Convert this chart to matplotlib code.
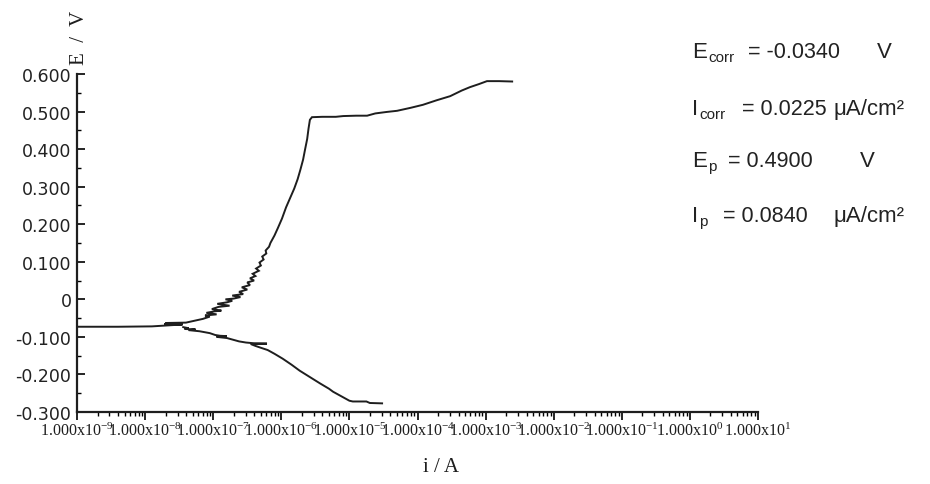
import numpy as np
import matplotlib
matplotlib.use("Agg")
import matplotlib.pyplot as plt
from matplotlib.ticker import FixedLocator, LogLocator, NullFormatter

# Anodic branch: log10(i / A) and E / V
anodic_logi = [-9.00, -8.40, -7.90, -7.72, -7.45, -7.72, -7.45, -7.70, -7.40, -7.30,
               -7.15, -7.05, -7.12, -6.95, -7.10, -6.98, -6.88, -7.02, -6.92, -6.76,
               -6.94, -6.80, -6.72, -6.82, -6.70, -6.60, -6.72, -6.56, -6.62, -6.50,
               -6.58, -6.46, -6.50, -6.40, -6.46, -6.38, -6.42, -6.33, -6.37, -6.30,
               -6.32, -6.26, -6.28, -6.22, -6.23, -6.18, -6.16, -6.10, -6.05, -5.99,
               -5.93, -5.87, -5.81, -5.76, -5.72, -5.68, -5.65, -5.62, -5.60, -5.58,
               -5.55, -5.40, -5.20, -5.09, -4.90, -4.74, -4.62, -4.45, -4.30, -4.10,
               -3.92, -3.72, -3.52, -3.35, -3.23, -3.10, -2.98, -2.80, -2.61]
anodic_E = [-0.073, -0.073, -0.072, -0.070, -0.067, -0.066, -0.064, -0.063, -0.062, -0.058,
            -0.052, -0.046, -0.043, -0.040, -0.036, -0.032, -0.030, -0.026, -0.020, -0.017,
            -0.012, -0.008, -0.004, 0.000, 0.002, 0.006, 0.010, 0.014, 0.020, 0.026,
            0.032, 0.038, 0.045, 0.050, 0.056, 0.062, 0.068, 0.076, 0.082, 0.090,
            0.098, 0.106, 0.114, 0.122, 0.130, 0.140, 0.150, 0.170, 0.190, 0.215,
            0.245, 0.270, 0.295, 0.320, 0.345, 0.372, 0.400, 0.427, 0.455, 0.478,
            0.485, 0.486, 0.486, 0.488, 0.489, 0.489, 0.495, 0.499, 0.502, 0.510,
            0.518, 0.530, 0.541, 0.556, 0.565, 0.573, 0.581, 0.581, 0.580]

# Cathodic branch
cathodic_logi = [-7.44, -7.36, -7.42, -7.26, -7.36, -7.20, -7.05, -6.97, -6.90, -6.80,
                 -6.95, -6.80, -6.70, -6.62, -6.52, -6.40, -6.21, -6.45, -6.38, -6.30,
                 -6.20, -6.10, -5.98, -5.85, -5.73, -5.58, -5.43, -5.30, -5.24, -5.10,
                 -5.00, -4.95, -4.75, -4.70, -4.52]
cathodic_E = [-0.074, -0.077, -0.079, -0.080, -0.082, -0.085, -0.090, -0.095, -0.097, -0.098,
              -0.100, -0.103, -0.108, -0.112, -0.115, -0.117, -0.118, -0.119, -0.124, -0.129,
              -0.135, -0.145, -0.158, -0.174, -0.190, -0.207, -0.224, -0.238, -0.246, -0.260,
              -0.270, -0.272, -0.272, -0.276, -0.277]

y_ticks = [-0.3, -0.2, -0.1, 0.0, 0.1, 0.2, 0.3, 0.4, 0.5, 0.6]
y_labels = ["-0.300", "-0.200", "-0.100", "0", "0.100", "0.200", "0.300", "0.400", "0.500", "0.600"]
x_exponents = [-9, -8, -7, -6, -5, -4, -3, -2, -1, 0, 1]

# Fitted parameters: symbol, subscript, value, unit
param_sym = ["E", "I", "E", "I"]
param_sub = ["corr", "corr", "p", "p"]
param_val = ["= -0.0340", "= 0.0225", "= 0.4900", "= 0.0840"]
param_unit = ["V", "μA/cm²", "V", "μA/cm²"]

plt.rcParams["mathtext.default"] = "regular"

W, H = 930, 485
fig = plt.figure(figsize=(W / 100, H / 100), dpi=100)
ax = fig.add_axes([77 / W, 1 - 413 / H, (758 - 77) / W, (413 - 75) / H])

line_kw = dict(color="#1e1e1e", lw=1.4, solid_joinstyle="miter")
ax.plot(10.0 ** np.array(anodic_logi), anodic_E, **line_kw)
ax.plot(10.0 ** np.array(cathodic_logi), cathodic_E, **line_kw)

ax.set_xscale("log")
ax.set_xlim(1e-9, 1e1)
ax.set_ylim(-0.3, 0.6)

for s in ("top", "right"):
    ax.spines[s].set_visible(False)
for s in ("left", "bottom"):
    ax.spines[s].set_linewidth(1.6)
    ax.spines[s].set_color("#1e1e1e")

ax.yaxis.set_major_locator(FixedLocator(y_ticks))
ax.set_yticklabels(y_labels, fontfamily="DejaVu Sans", fontsize=12.5, color="#222222")
ax.yaxis.set_minor_locator(FixedLocator([v + 0.05 for v in y_ticks[:-1]]))
ax.tick_params(axis="y", which="major", direction="in", length=6, width=1.2, pad=4)
ax.tick_params(axis="y", which="minor", direction="in", length=3, width=1.0)

ax.set_xticks([10.0 ** e for e in x_exponents])
ax.set_xticklabels([r"1.000x10$^{\mathregular{%d}}$" % e for e in x_exponents],
                   fontfamily="Liberation Serif", fontsize=11.5, color="#1e1e1e")
ax.xaxis.set_minor_locator(LogLocator(base=10, subs=np.arange(2, 10), numticks=100))
ax.xaxis.set_minor_formatter(NullFormatter())
ax.tick_params(axis="x", which="major", direction="out", length=6, width=1.2, pad=1)
ax.tick_params(axis="x", which="minor", direction="out", length=3, width=1.0)

fig.text(79 / W, 1 - 38 / H, "E  /  V", rotation=90, ha="center", va="center",
         fontfamily="Liberation Serif", fontsize=15, color="#1e1e1e")
fig.text(441 / W, 1 - 468 / H, "i / A", ha="center", va="center",
         fontfamily="Liberation Serif", fontsize=15, color="#1e1e1e")

baselines = [58, 115, 167, 222]
sub_x = [708, 699, 708, 699]
eq_x = [748, 742, 728, 723]
unit_x = [877, 833, 860, 833]
kw = dict(fontfamily="Liberation Sans", color="#222222", va="baseline", ha="left")
for sym, sub, val, unit, yb, sx, ex, ux in zip(param_sym, param_sub, param_val, param_unit,
                                                baselines, sub_x, eq_x, unit_x):
    fig.text(692 / W, 1 - yb / H, sym, fontsize=16, **kw)
    fig.text(sx / W, 1 - (yb + 4) / H, sub, fontsize=11, **kw)
    fig.text(ex / W, 1 - yb / H, val, fontsize=15.5, **kw)
    fig.text(ux / W, 1 - yb / H, unit, fontsize=16, **kw)

fig.savefig("out.png", dpi=100)
